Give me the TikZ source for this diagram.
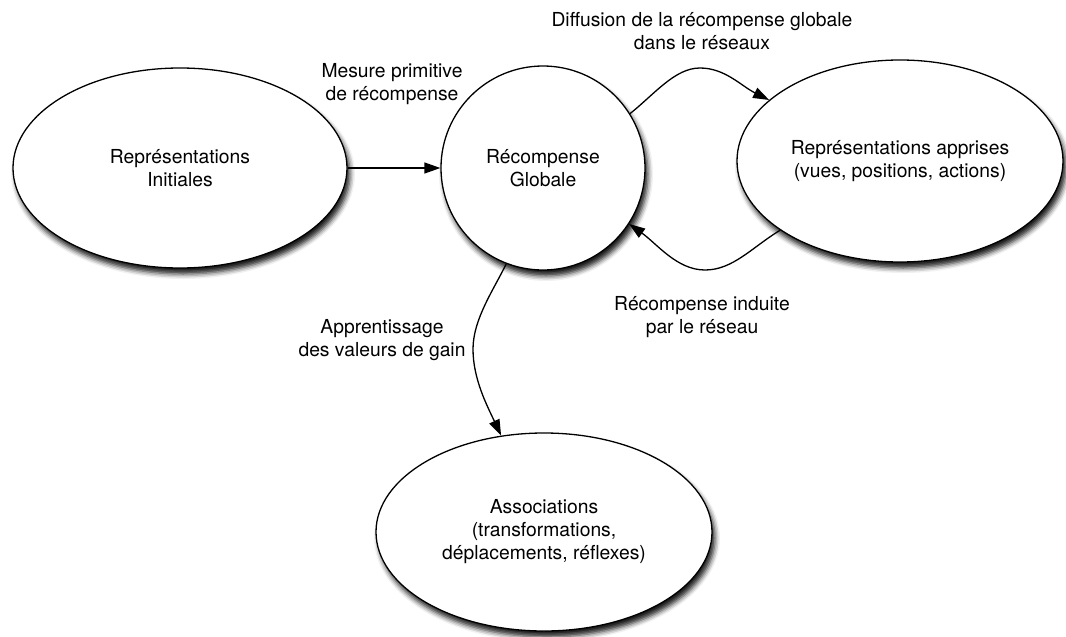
\documentclass[tikz,border=0pt]{standalone}
\usepackage{fontspec}
\setmainfont{TeX Gyre Heros}
\usetikzlibrary{shapes.geometric,arrows.meta,shadows.blur}
\begin{document}
\begin{tikzpicture}[x=1pt,y=-1pt,
  txt/.style={font=\fontsize{19.3}{23}\selectfont, align=center},
  bubble/.style={txt, ellipse, draw, line width=1.3pt, fill=white, inner sep=0pt,
    blur shadow={shadow xshift=3pt, shadow yshift=-6pt, shadow blur radius=5pt, shadow opacity=90}},
  arr/.style={line width=1.3pt, -{Triangle[length=16pt,width=11pt]}},
  lbl/.style={txt}]
\useasboundingbox (0,0) rectangle (1066,637);
\node[bubble, minimum width=334pt, minimum height=200pt] (ri) at (180,168) {Représentations\\Initiales};
\node[bubble, circle, minimum size=204pt] (rg) at (543,168) {Récompense\\Globale};
\node[bubble, minimum width=326pt, minimum height=202pt] (ra) at (900,161) {Représentations apprises\\(vues, positions, actions)};
\node[bubble, minimum width=336pt, minimum height=198pt] (as) at (544,532) {Associations\\(transformations,\\déplacements, réflexes)};

\draw[arr] (ri.east) -- (rg.west);
\draw[arr] (rg.32) .. controls +(25,-20) and +(-25,0) .. (700,68)
  .. controls +(25,0) and +(-28,-14) .. (ra.155);
\draw[arr] (ra.210) .. controls +(-28,17) and +(28,0) .. (705,270)
  .. controls +(-28,0) and +(28,20) .. (rg.-33);
\draw[arr] (rg.-111) .. controls +(-12,25) and +(0,-30) .. (473,349)
  .. controls +(0,30) and +(-14,-30) .. (as.114);

\node[lbl] (l1) at (392,84) {Mesure primitive\\de récompense};
\node[lbl] (l2) at (702,31) {Diffusion de la récompense globale\\dans le réseaux};
\node[lbl] (l3) at (702,317) {Récompense induite\\par le réseau};
\node[lbl] (l4) at (382,340) {Apprentissage\\des valeurs de gain};
\end{tikzpicture}
\end{document}
